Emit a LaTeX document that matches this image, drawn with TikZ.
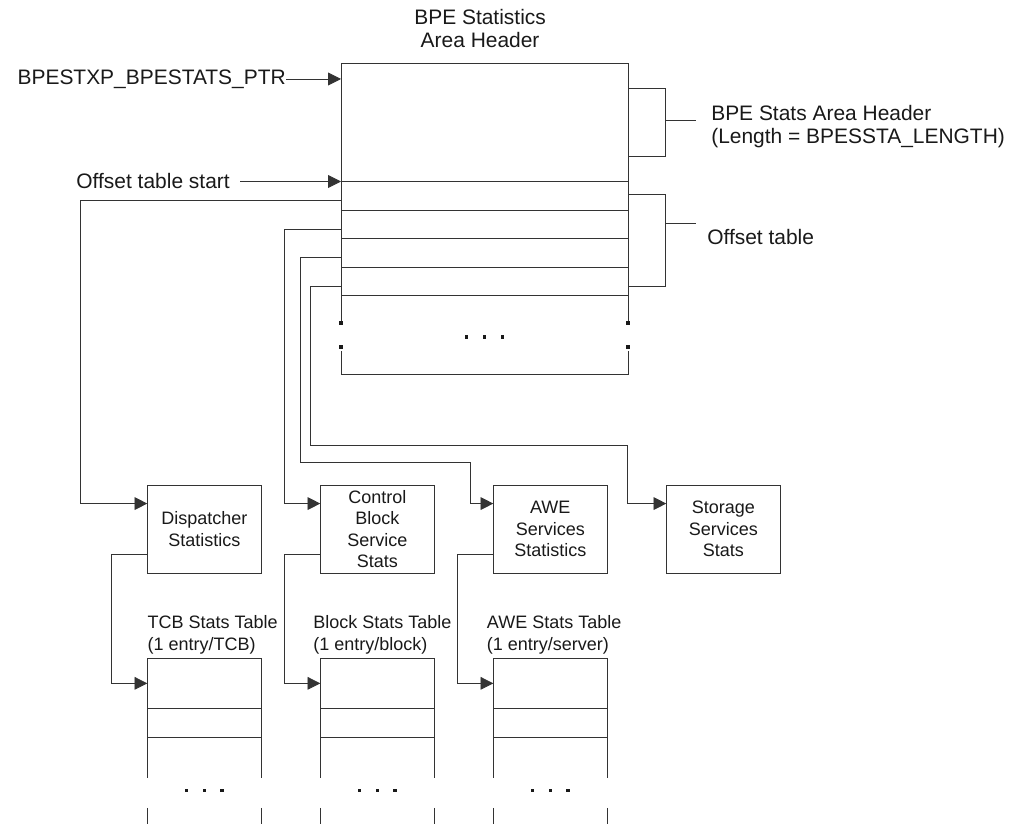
\documentclass[tikz,border=0pt]{standalone}
\usepackage{fontspec}
\setmainfont{Liberation Sans}
\usepackage{tikz}
\usetikzlibrary{positioning,arrows.meta}

\newcommand{\bigtxt}{\fontsize{14.9}{16.7}\selectfont}
\newcommand{\smalltxt}{\fontsize{12.8}{15.2}\selectfont}

\tikzset{
    box/.style={draw=black!80, rectangle, outer sep=0pt, line width=0.6pt},
    plain/.style={draw=black!80, line width=0.6pt},
    link/.style={draw=black!80, line width=0.6pt, -{Triangle[length=0.32cm,width=0.32cm]}},
    lbl/.style={inner sep=0pt},
    dot/.style={fill=black!90, rectangle, inner sep=0pt, minimum size=0.085cm}
}

\begin{document}
\begin{tikzpicture}[text=black!90]
    \useasboundingbox (0,0) rectangle (25.55,20.575);

    % stats area header
    \node[box,
    anchor=north west,
    minimum width=7.175cm,
    minimum height=2.9625cm] (hdr) at (8.525,19.0) {};
    \node[lbl,
    align=center,
    font=\bigtxt,
    above=0.37cm of hdr,
    xshift=-0.11cm] (title) {BPE Statistics\\Area Header};

    % offset table slots
    \node[box,
    below=0cm of hdr,
    minimum width=7.175cm,
    minimum height=0.715cm] (slot1) {};
    \foreach \i [remember=\i as \j (initially 1)] in {2,...,4}
    {
        \node[box,
        below=0cm of slot\j,
        minimum width=7.175cm,
        minimum height=0.715cm] (slot\i) {};
    }

    % open end of the area
    \draw[plain] (slot4.south west) -- ++(0,-0.62);
    \draw[plain] (slot4.south east) -- ++(0,-0.62);
    \draw[plain] ([yshift=-1.39cm]slot4.south west) -- ++(0,-0.58) -| ([yshift=-1.39cm]slot4.south east);
    \foreach \x in {-0.45,0,0.45}
        \node[dot] at ([xshift=\x cm,yshift=-1.03cm]slot4.south) {};
    \foreach \y in {0.68,1.28}
    {
        \node[dot] at ([yshift=-\y cm]slot4.south west) {};
        \node[dot] at ([yshift=-\y cm]slot4.south east) {};
    }

    % brackets on the right
    \draw[plain] ([yshift=-0.6325cm]hdr.north east) -- ++(0.9425,0) -- ++(0,-1.71) -- ++(-0.9425,0);
    \coordinate (hdrmid) at ([xshift=0.9425cm,yshift=-1.425cm]hdr.north east);
    \draw[plain] ([yshift=-0.32cm]hdr.south east) -- ++(0.9425,0) -- ++(0,-2.31) -- ++(-0.9425,0);
    \coordinate (offmid) at ([xshift=0.9425cm,yshift=-1.06cm]hdr.south east);

    \node[lbl,
    anchor=west,
    align=left,
    font=\bigtxt] (hdrlbl) at (17.775,17.4125) {BPE Stats Area Header\\(Length = BPESSTA\_LENGTH)};
    \node[lbl,
    anchor=west,
    font=\bigtxt] (offlbl) at (17.675,14.6575) {Offset table};
    \draw[plain, shorten >=0.38cm] (hdrmid) -- (hdrmid -| hdrlbl.west);
    \draw[plain, shorten >=0.28cm] (offmid) -- (offmid -| offlbl.west);

    % pointers into the area
    \node[lbl,
    anchor=east,
    font=\bigtxt] (ptr) at ([xshift=-1.375cm,yshift=-0.4cm]hdr.north west) {BPESTXP\_BPESTATS\_PTR};
    \draw[link] (ptr.east) -- (ptr.east -| hdr.west);
    \node[lbl,
    anchor=east,
    font=\bigtxt] (ostart) at ([xshift=-2.775cm]hdr.south west) {Offset table start};
    \draw[link, shorten <=0.25cm] (ostart.east) -- (hdr.south west);

    % statistics boxes
    \node[box,
    minimum width=2.85cm,
    minimum height=2.2cm,
    align=center,
    font=\smalltxt] (disp) at (5.1075,7.346) {Dispatcher\\Statistics};
    \node[box,
    minimum width=2.85cm,
    minimum height=2.2cm,
    align=center,
    font=\smalltxt,
    right=1.475cm of disp] (ctrl) {Control\\Block\\Service\\Stats};
    \node[box,
    minimum width=2.85cm,
    minimum height=2.2cm,
    align=center,
    font=\smalltxt,
    right=1.475cm of ctrl] (awe) {AWE\\Services\\Statistics};
    \node[box,
    minimum width=2.85cm,
    minimum height=2.2cm,
    align=center,
    font=\smalltxt,
    right=1.475cm of awe] (stor) {Storage\\Services\\Stats};

    % stats tables
    \foreach \b/\t in {disp/tcb, ctrl/blk, awe/awet}
    {
        \node[box,
        minimum width=2.85cm,
        minimum height=1.26cm,
        below=2.125cm of \b] (\t1) {};
        \node[box,
        minimum width=2.85cm,
        minimum height=0.715cm,
        below=0cm of \t1] (\t2) {};
        \draw[plain] (\t2.south west) -- ++(0,-1.0175);
        \draw[plain] (\t2.south east) -- ++(0,-1.0175);
        \draw[plain] ([yshift=-1.7675cm]\t2.south west) -- ++(0,-0.6);
        \draw[plain] ([yshift=-1.7675cm]\t2.south east) -- ++(0,-0.6);
        \foreach \x in {-0.44,0,0.44}
            \node[dot] at ([xshift=\x cm,yshift=-1.335cm]\t2.south) {};
        \draw[link] ([yshift=-0.62cm]\b.west) -- ++(-0.89,0) |- (\t1.west);
    }

    \node[lbl,
    anchor=south west,
    align=left,
    font=\smalltxt] (tcblbl) at ([yshift=0.1cm]tcb1.north west) {TCB Stats Table\\(1 entry/TCB)};
    \node[lbl,
    anchor=south west,
    align=left,
    font=\smalltxt] (blklbl) at ([xshift=-0.18cm,yshift=0.1cm]blk1.north west) {Block Stats Table\\(1 entry/block)};
    \node[lbl,
    anchor=south west,
    align=left,
    font=\smalltxt] (awelbl) at ([xshift=-0.165cm,yshift=0.1cm]awet1.north west) {AWE Stats Table\\(1 entry/server)};

    % offset connectors
    \draw[link] ([yshift=-0.12cm]slot1.west) -- ++(-6.51,0) |- ([yshift=-0.46cm]disp.north west);
    \draw[link] ([yshift=-0.12cm]slot2.west) -- ++(-1.41,0) |- ([yshift=-0.46cm]ctrl.north west);
    \draw[link] ([yshift=-0.12cm]slot3.west) -- ++(-1.025,0) |- ([xshift=-0.58cm,yshift=0.575cm]awe.north west) |- ([yshift=-0.46cm]awe.north west);
    \draw[link] ([yshift=-0.12cm]slot4.west) -- ++(-0.76,0) |- ([xshift=-0.975cm,yshift=1.0cm]stor.north west) |- ([yshift=-0.46cm]stor.north west);

\end{tikzpicture}
\end{document}
